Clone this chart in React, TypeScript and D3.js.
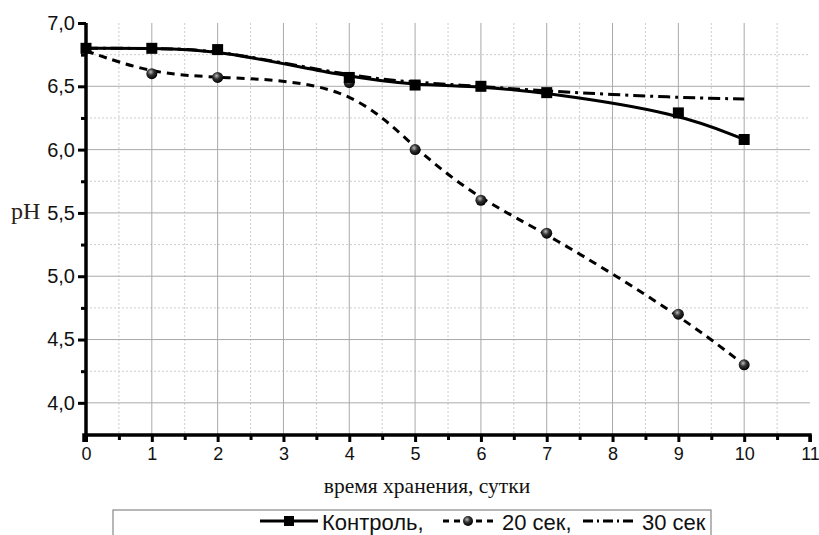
import React, { useEffect, useRef } from 'react';
import * as d3 from 'd3';

// storage days and pH per treatment
const control_days = [0, 1, 2, 4, 5, 6, 7, 9, 10];
const control_ph = [6.8, 6.8, 6.79, 6.57, 6.51, 6.5, 6.45, 6.29, 6.08];

const sec20_days = [0, 1, 2, 4, 5, 6, 7, 9, 10];
const sec20_ph = [6.78, 6.6, 6.57, 6.53, 6.0, 5.6, 5.34, 4.7, 4.3];

const sec30_days = [0, 1, 2, 4, 5, 6, 7, 9, 10];
const sec30_ph = [6.8, 6.8, 6.79, 6.58, 6.53, 6.5, 6.46, 6.41, 6.4];

const x_ticks = [0, 1, 2, 3, 4, 5, 6, 7, 8, 9, 10, 11];
const y_ticks = [4.0, 4.5, 5.0, 5.5, 6.0, 6.5, 7.0];

const legend_labels = ['Контроль,', '20 сек,', '30 сек'];

const W = 819;
const H = 535;
const sans = 'Arial, "Liberation Sans", sans-serif';
const serif = '"Times New Roman", "Liberation Serif", serif';

function App() {
  const ref = useRef<SVGSVGElement>(null);

  useEffect(() => {
    const svg = d3.select(ref.current);
    svg.selectAll('*').remove();

    const left = 86, right = 810, top = 23, bottom = 435;
    const x = d3.scaleLinear().domain([0, 11]).range([left, right]);
    const y = d3.scaleLinear().domain([3.746, 7.0]).range([bottom, top]);

    const defs = svg.append('defs');
    const grad = defs.append('radialGradient').attr('id', 'ball')
      .attr('cx', '40%').attr('cy', '35%').attr('r', '65%');
    grad.append('stop').attr('offset', '0%').attr('stop-color', '#bbb');
    grad.append('stop').attr('offset', '45%').attr('stop-color', '#333');
    grad.append('stop').attr('offset', '100%').attr('stop-color', '#000');

    // grid: minor dotted
    const g = svg.append('g');
    d3.range(0.5, 11, 1).forEach(v => {
      g.append('line').attr('x1', x(v)).attr('x2', x(v)).attr('y1', top).attr('y2', bottom)
        .attr('stroke', '#ccc').attr('stroke-width', 1).attr('stroke-dasharray', '2,2');
    });
    d3.range(3.75, 7.0, 0.5).forEach(v => {
      g.append('line').attr('x1', left).attr('x2', right).attr('y1', y(v)).attr('y2', y(v))
        .attr('stroke', '#ccc').attr('stroke-width', 1).attr('stroke-dasharray', '2,2');
    });
    // grid: major
    x_ticks.slice(1, -1).forEach(v => {
      g.append('line').attr('x1', x(v)).attr('x2', x(v)).attr('y1', top).attr('y2', bottom)
        .attr('stroke', '#aaa').attr('stroke-width', 1);
    });
    y_ticks.slice(0, -1).forEach(v => {
      g.append('line').attr('x1', left).attr('x2', right).attr('y1', y(v)).attr('y2', y(v))
        .attr('stroke', '#aaa').attr('stroke-width', 1);
    });

    // axes
    const xAxis = d3.axisBottom(x).tickValues(x_ticks).tickSize(7).tickPadding(5)
      .tickFormat(d => String(d));
    const gx = svg.append('g').attr('transform', `translate(0,${bottom})`).call(xAxis);
    gx.select('.domain').attr('stroke-width', 3.5).attr('d', `M${left - 2},7V0H${right}V7`);
    gx.selectAll('.tick line').attr('stroke-width', 3);
    gx.selectAll('text').attr('font-family', sans).attr('font-size', 18).attr('fill', '#111');
    const xMinor = d3.axisBottom(x).tickValues(d3.range(0.5, 11, 1)).tickSize(5).tickFormat(() => '');
    const gxm = svg.append('g').attr('transform', `translate(0,${bottom})`).call(xMinor);
    gxm.select('.domain').remove();
    gxm.selectAll('.tick line').attr('stroke-width', 3);

    const yAxis = d3.axisLeft(y).tickValues(y_ticks).tickSize(8).tickPadding(3)
      .tickFormat(d => d3.format('.1f')(d as number).replace('.', ','));
    const gy = svg.append('g').attr('transform', `translate(${left},0)`).call(yAxis);
    gy.select('.domain').attr('stroke-width', 3.5).attr('d', `M0,${top}V${bottom + 2}`);
    gy.selectAll('.tick line').attr('stroke-width', 3);
    gy.selectAll('text').attr('font-family', sans).attr('font-size', 20).attr('fill', '#111');
    const yMinor = d3.axisLeft(y).tickValues(d3.range(4.25, 7.0, 0.5)).tickSize(5).tickFormat(() => '');
    const gym = svg.append('g').attr('transform', `translate(${left},0)`).call(yMinor);
    gym.select('.domain').remove();
    gym.selectAll('.tick line').attr('stroke-width', 3);

    // lines (B-spline smoothing, as in the source plot)
    const line = d3.line<[number, number]>().x(d => x(d[0])).y(d => y(d[1]))
      .curve(d3.curveBasis);
    const zip = (a: number[], b: number[]) => a.map((v, i) => [v, b[i]] as [number, number]);

    svg.append('path').attr('d', line(zip(sec30_days, sec30_ph)))
      .attr('fill', 'none').attr('stroke', '#000').attr('stroke-width', 3)
      .attr('stroke-dasharray', '12,5,3,5');
    svg.append('path').attr('d', line(zip(sec20_days, sec20_ph)))
      .attr('fill', 'none').attr('stroke', '#000').attr('stroke-width', 3)
      .attr('stroke-dasharray', '8,6');
    svg.append('path').attr('d', line(zip(control_days, control_ph)))
      .attr('fill', 'none').attr('stroke', '#000').attr('stroke-width', 3);

    svg.append('g').selectAll('circle').data(zip(sec20_days, sec20_ph).slice(1)).enter()
      .append('circle').attr('cx', d => x(d[0])).attr('cy', d => y(d[1])).attr('r', 5.5)
      .attr('fill', 'url(#ball)');
    svg.append('g').selectAll('rect').data(zip(control_days, control_ph)).enter()
      .append('rect').attr('x', d => x(d[0]) - 5.5).attr('y', d => y(d[1]) - 5.5)
      .attr('width', 11).attr('height', 11).attr('fill', '#000');

    // axis titles
    svg.append('text').attr('x', 11).attr('y', 219).text('pH')
      .attr('font-family', serif).attr('font-size', 24).attr('fill', '#2a2218');
    svg.append('text').attr('x', 427).attr('y', 493).attr('text-anchor', 'middle')
      .text('время хранения, сутки').attr('font-family', serif).attr('font-size', 21.5).attr('fill', '#111');

    // legend
    svg.append('rect').attr('x', 113).attr('y', 510).attr('width', 598).attr('height', 40)
      .attr('fill', '#fff').attr('stroke', '#888').attr('stroke-width', 1.2);
    const ly = 521;
    const lg = svg.append('g');
    lg.append('line').attr('x1', 260).attr('x2', 318).attr('y1', ly).attr('y2', ly)
      .attr('stroke', '#000').attr('stroke-width', 3);
    lg.append('rect').attr('x', 284).attr('y', ly - 5).attr('width', 10).attr('height', 10).attr('fill', '#000');
    lg.append('text').attr('x', 322).attr('y', ly + 9).text(legend_labels[0]);
    lg.append('line').attr('x1', 443).attr('x2', 497).attr('y1', ly).attr('y2', ly)
      .attr('stroke', '#000').attr('stroke-width', 3).attr('stroke-dasharray', '6,5');
    lg.append('circle').attr('cx', 468).attr('cy', ly).attr('r', 5).attr('fill', 'url(#ball)');
    lg.append('text').attr('x', 502).attr('y', ly + 9).text(legend_labels[1]);
    lg.append('line').attr('x1', 583).attr('x2', 637).attr('y1', ly).attr('y2', ly)
      .attr('stroke', '#000').attr('stroke-width', 3).attr('stroke-dasharray', '10,4,2,4');
    lg.append('text').attr('x', 642).attr('y', ly + 9).text(legend_labels[2]);
    lg.selectAll('text').attr('font-family', sans).attr('font-size', 22).attr('fill', '#111');
  }, []);

  return (
    <svg ref={ref} width={W} height={H}
      style={{ position: 'absolute', left: 0, top: 0, background: '#fff' }} />
  );
}

export default App;
